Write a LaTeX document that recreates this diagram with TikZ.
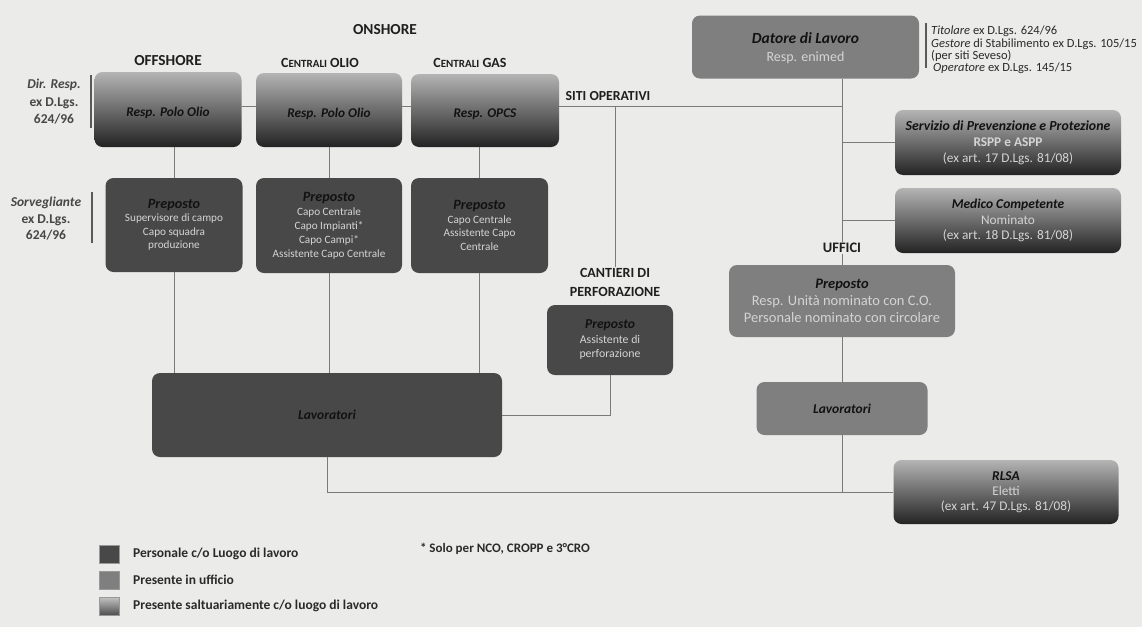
\documentclass[tikz,border=0pt]{standalone}
\usepackage{fontspec}
\setmainfont{Carlito}
\usetikzlibrary{calc}
\definecolor{bg}{HTML}{EBEBEA}
\definecolor{dk}{HTML}{484848}
\definecolor{md}{HTML}{7F7F7F}
\definecolor{gtop}{HTML}{B4B4B4}
\definecolor{gbot}{HTML}{232323}
\definecolor{ln}{HTML}{7A7A7A}
\definecolor{lt}{HTML}{D4D4D4}
\definecolor{hdc}{HTML}{121212}
\definecolor{tx}{HTML}{2A2A2A}
\newcommand\fsz[2]{\fontsize{#1}{#2}\selectfont}
\newcommand\hdt[1]{{\color{hdc}\bfseries\itshape #1}}
\tikzset{
  box/.style={rectangle, rounded corners=8pt, inner sep=0pt, align=center, text=lt},
  dkbox/.style={box, fill=dk},
  mdbox/.style={box, fill=md},
  grbox/.style={box, top color=gtop, bottom color=gbot},
  topbox/.style={grbox, font=\fsz{13.3}{15}, text height=17pt, text depth=3pt},
  conn/.style={draw=ln, line width=0.9pt},
  sidebar/.style={draw=black!65, line width=1.6pt},
  hdr/.style={font=\bfseries\fsz{14}{19}, text=black!88, align=center, inner sep=1pt},
  note/.style={align=center, text=black!72, font=\bfseries\fsz{13.5}{17.5}},
  lgsq/.style={minimum width=20pt, minimum height=18pt, inner sep=0pt, draw=black!40, line width=0.4pt},
  lgtxt/.style={anchor=west, font=\bfseries\fsz{13.5}{15}, text=tx, inner sep=0pt}
}
\begin{document}
\begin{tikzpicture}[x=1pt,y=-1pt]
\useasboundingbox (0,0) rectangle (1142,627);
\fill[bg] (0,0) rectangle (1142,627);

% headings
\node[hdr, font=\bfseries\fsz{15.3}{17}] (onshore) at (385,30) {ONSHORE};
\node[hdr, font=\bfseries\fsz{15.3}{17}] (offshore) at (168,61) {OFFSHORE};
\node[hdr] (colio) at (320,63) {C{\fsz{11}{12}ENTRALI} OLIO};
\node[hdr] (cgas) at (470,63) {C{\fsz{11}{12}ENTRALI} GAS};
\node[hdr, font=\bfseries\fsz{13.8}{15}] (siti) at (608,96) {SITI OPERATIVI};
\node[hdr, font=\bfseries\fsz{14.5}{16}] (uff) at (842,248) {UFFICI};
\node[hdr] (cantl) at (615,282) {CANTIERI DI\\PERFORAZIONE};

% side notes
\node[note] (dir) at (54,102) {\textit{Dir. Resp.}\\ex D.Lgs.\\624/96};
\node[note, font=\bfseries\fsz{13.5}{16.5}] (sorv) at (46,219) {\textit{Sorvegliante}\\ex D.Lgs.\\624/96};
\draw[sidebar] (91,75) -- (91,128);
\draw[sidebar] (92,192) -- (92,243);
\draw[sidebar] (926,23) -- (926,68);
\node[anchor=west, align=left, inner sep=0pt, text=tx, font=\fsz{12.5}{12.3}] (tit) at (931,50)
  {\textit{Titolare} ex D.Lgs. 624/96\\\textit{Gestore} di Stabilimento ex D.Lgs. 105/15\\(per siti Seveso)\\\hspace{2pt}\textit{Operatore} ex D.Lgs. 145/15};

% top row
\node[topbox, minimum width=147pt, minimum height=75pt] (t1) at (168,109.5) {\hdt{Resp. Polo Olio}};
\node[topbox, minimum width=146pt, minimum height=74pt] (t2) at (329,110) {\hdt{Resp. Polo Olio}};
\node[topbox, minimum width=148pt, minimum height=73pt] (t3) at (485,110.5) {\hdt{Resp. OPCS}};

% preposti
\node[dkbox, minimum width=137pt, minimum height=94pt, font=\fsz{11.2}{13.5}] (p1) at (174,225)
  {{\fsz{14.2}{16}\hdt{Preposto}}\\Supervisore di campo\\Capo squadra\\produzione};
\node[dkbox, minimum width=146pt, minimum height=95pt, font=\fsz{11.2}{14}] (p2) at (329,225.5)
  {{\fsz{14.2}{14}\hdt{Preposto}}\\Capo Centrale\\Capo Impianti*\\Capo Campi*\\Assistente Capo Centrale};
\node[dkbox, minimum width=137pt, minimum height=95pt, font=\fsz{11.2}{13.5}] (p3) at (479.5,225.5)
  {{\fsz{14.2}{16}\hdt{Preposto}}\\Capo Centrale\\Assistente Capo\\Centrale};

\node[dkbox, minimum width=350pt, minimum height=84pt, font=\fsz{13.5}{15}] (lav) at (327,415) {\hdt{Lavoratori}};
\node[dkbox, minimum width=126pt, minimum height=70pt, font=\fsz{11.8}{14.5}] (cant) at (610,340)
  {{\fsz{13.6}{15}\hdt{Preposto}}\\Assistente di\\perforazione};

% right side
\node[mdbox, minimum width=227pt, minimum height=63pt, font=\fsz{14}{18}] (dat) at (805.5,47)
  {{\fsz{15.5}{18}\rule{0pt}{14pt}\hdt{Datore di Lavoro}}\\Resp. enimed};
\node[grbox, minimum width=226pt, minimum height=65pt, font=\fsz{13.3}{16}] (spp) at (1008,142.5)
  {{\fsz{13.8}{16}\hdt{Servizio di Prevenzione e Protezione}}\\\textbf{RSPP e ASPP}\\(ex art. 17 D.Lgs. 81/08)};
\node[grbox, minimum width=226pt, minimum height=65pt, font=\fsz{13.3}{15.5}] (med) at (1008,220.5)
  {{\fsz{13.5}{15.5}\hdt{Medico Competente}}\\Nominato\\(ex art. 18 D.Lgs. 81/08)};
\node[mdbox, minimum width=226pt, minimum height=72pt, font=\fsz{14.5}{17}] (pu) at (842,301)
  {{\fsz{14.5}{17}\hdt{Preposto}}\\Resp. Unità nominato con C.O.\\Personale nominato con circolare};
\node[mdbox, minimum width=171pt, minimum height=53pt, font=\fsz{13.5}{15}] (lu) at (842,408.5) {\hdt{Lavoratori}};
\node[grbox, minimum width=225pt, minimum height=64pt, font=\fsz{13.3}{15}] (rlsa) at (1006,492)
  {{\fsz{13.5}{15}\hdt{RLSA}}\\Eletti\\(ex art. 47 D.Lgs. 81/08)};

% connectors
\coordinate (jn) at (842,106);
\draw[conn] (t1.east |- jn) -- (t2.west |- jn);
\draw[conn] (t2.east |- jn) -- (t3.west |- jn);
\draw[conn] (t3.east |- jn) -- (jn);
\draw[conn] (dat.south -| pu.north) -- (uff.north);
\draw[conn] (uff.south) -- (pu.north);
\draw[conn] (spp.west) -- (spp.west -| jn);
\draw[conn] (med.west) -- (med.west -| jn);
\draw[conn] (p1.north |- t1.south) -- (p1.north);
\draw[conn] (p2.north |- t2.south) -- (p2.north);
\draw[conn] (p3.north |- t3.south) -- (p3.north);
\draw[conn] (p1.south) -- (p1.south |- lav.north);
\draw[conn] (p2.south) -- (p2.south |- lav.north);
\draw[conn] (p3.south) -- (p3.south |- lav.north);
\draw[conn] (cantl.north |- jn) -- (cantl.north);
\draw[conn] (cant.south) |- (lav.east);
\draw[conn] (pu.south) -- (lu.north);
\draw[conn] (lu.south) -- (lu.south |- rlsa.west);
\draw[conn] (lav.south) |- (rlsa.west);

% legend
\node[lgsq, fill=dk] (l1) at (109,554) {};
\node[lgsq, fill=md] (l2) at (109,580) {};
\node[lgsq, top color=gtop!80!white, bottom color=gbot!80] (l3) at (109,606) {};
\node[lgtxt] (lt1) at (133,554) {Personale c/o Luogo di lavoro};
\node[lgtxt] (lt2) at (133,580) {Presente in ufficio};
\node[lgtxt] (lt3) at (133,606) {Presente saltuariamente c/o luogo di lavoro};
\node[font=\bfseries\fsz{13}{14}, text=tx, inner sep=0pt] (solo) at (505,549) {* Solo per NCO, CROPP e 3°CRO};
\end{tikzpicture}
\end{document}
